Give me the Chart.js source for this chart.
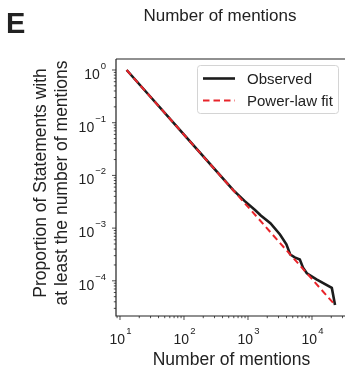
<!DOCTYPE html>
<html>
<head>
<meta charset="utf-8">
<script src="https://cdn.jsdelivr.net/npm/chart.js@4.4.1/dist/chart.umd.min.js"></script>
<style>
    html, body { margin: 0; padding: 0; background: #ffffff; }
    #wrap { width: 345px; height: 371px; position: relative; }
</style>
</head>
<body>
<div id="wrap"><canvas id="mentions-chart"></canvas></div>
<script>
// Observed complementary CDF
const obsMentions = [12.7, 31.6, 100, 316, 589, 891, 1288, 1585, 2239, 3162, 3981, 4571, 5370, 6457, 7244, 8318, 11749, 20417, 22909];
const obsProportion = [1.0, 0.288, 0.0594, 0.01227, 0.00524, 0.00325, 0.0022, 0.00174, 0.00124, 7.57e-4, 4.92e-4, 3.16e-4, 2.78e-4, 2.54e-4, 1.78e-4, 1.39e-4, 1.07e-4, 7.33e-5, 3.47e-5];

// Power-law fit (straight line in log-log)
const fitMentions = [12.7, 22909];
const fitProportion = [1.0, 3.47e-5];

// axis labels / ticks
const xTickPowers = [1, 2, 3, 4];
const yTickPowers = [0, -1, -2, -3, -4];
const seriesLabels = ['Observed', 'Power-law fit'];

const FONT = "'Liberation Sans', Arial, sans-serif";
const AXIS_COLOR = '#222222';

const toPoints = (xs, ys) => xs.map((x, i) => ({x: x, y: ys[i]}));

// Подписи, деления, рамка и легенда
const decorPlugin = {
    id: 'decorPlugin',
    afterDraw(chart) {
        const ctx = chart.ctx;
        const area = chart.chartArea;
        const xs = chart.scales.x;
        const ys = chart.scales.y;
        ctx.save();

        // spines: left, bottom, top
        ctx.strokeStyle = AXIS_COLOR;
        ctx.lineWidth = 1.2;
        ctx.beginPath();
        ctx.moveTo(area.left, area.top);
        ctx.lineTo(area.right + 2, area.top);
        ctx.moveTo(area.left, area.top);
        ctx.lineTo(area.left, area.bottom);
        ctx.lineTo(area.right + 2, area.bottom);
        ctx.stroke();

        // tick marks (major at powers of ten, minor between)
        const drawTicks = (scale, horizontal) => {
            const lo = Math.floor(Math.log10(scale.min));
            const hi = Math.ceil(Math.log10(scale.max));
            ctx.lineWidth = 0.8;
            ctx.beginPath();
            for (let e = lo; e <= hi; e++) {
                for (let k = 1; k <= 9; k++) {
                    const v = k * Math.pow(10, e);
                    if (v < scale.min || v > scale.max) continue;
                    const p = scale.getPixelForValue(v);
                    const len = k === 1 ? 4 : 2.2;
                    if (horizontal) {
                        ctx.moveTo(p, area.bottom);
                        ctx.lineTo(p, area.bottom + len);
                    } else {
                        ctx.moveTo(area.left, p);
                        ctx.lineTo(area.left - len, p);
                    }
                }
            }
            ctx.stroke();
        };
        drawTicks(xs, true);
        drawTicks(ys, false);

        const expText = (e) => (e < 0 ? '\u2212' + (-e) : String(e));
        const BASE = '14px ' + FONT;
        const SUP = '9.5px ' + FONT;

        // x tick labels 10^n
        ctx.fillStyle = AXIS_COLOR;
        ctx.textBaseline = 'alphabetic';
        xTickPowers.forEach(e => {
            const p = xs.getPixelForValue(Math.pow(10, e));
            ctx.font = BASE;
            const baseW = ctx.measureText('10').width;
            ctx.font = SUP;
            const supW = ctx.measureText(expText(e)).width;
            const start = p - (baseW + supW) / 2;
            ctx.font = BASE;
            ctx.textAlign = 'left';
            ctx.fillText('10', start, area.bottom + 28);
            ctx.font = SUP;
            ctx.fillText(expText(e), start + baseW + 1, area.bottom + 18);
        });

        // y tick labels 10^n
        const labelRight = area.left - 10;
        yTickPowers.forEach(e => {
            const p = ys.getPixelForValue(Math.pow(10, e));
            ctx.font = SUP;
            const supW = ctx.measureText(expText(e)).width;
            ctx.textAlign = 'left';
            ctx.fillText(expText(e), labelRight - supW, p - 1);
            ctx.font = BASE;
            ctx.textAlign = 'right';
            ctx.fillText('10', labelRight - supW - 1, p + 9);
        });

        // axis titles
        ctx.font = '17.5px ' + FONT;
        ctx.textAlign = 'center';
        ctx.textBaseline = 'middle';
        ctx.fillText('Number of mentions', (area.left + area.right) / 2 + 1, 360);

        ctx.save();
        ctx.translate(41, 183);
        ctx.rotate(-Math.PI / 2);
        ctx.fillText('Proportion of Statements with', 0, 0);
        ctx.fillText('at least the number of mentions', 0, 21);
        ctx.restore();

        // chart title and panel letter
        ctx.font = '17px ' + FONT;
        ctx.textBaseline = 'alphabetic';
        ctx.fillText('Number of mentions', 220, 21);
        ctx.font = 'bold 29px ' + FONT;
        ctx.textAlign = 'left';
        ctx.fillText('E', 6, 33);

        // legend
        const bx = 197.5, by = 65.5, bw = 141, bh = 48;
        ctx.beginPath();
        ctx.roundRect(bx, by, bw, bh, 3);
        ctx.fillStyle = 'rgba(255,255,255,0.85)';
        ctx.fill();
        ctx.strokeStyle = '#d4d4d4';
        ctx.lineWidth = 1;
        ctx.stroke();

        const rows = [78.5, 100.5];
        chart.data.datasets
            .slice()
            .sort((a, b) => seriesLabels.indexOf(a.label) - seriesLabels.indexOf(b.label))
            .forEach((ds, i) => {
                const y = rows[i];
                ctx.beginPath();
                ctx.setLineDash(ds.borderDash || []);
                ctx.strokeStyle = ds.borderColor;
                ctx.lineWidth = ds.borderWidth;
                ctx.moveTo(203, y);
                ctx.lineTo(235, y);
                ctx.stroke();
                ctx.setLineDash([]);
                ctx.fillStyle = AXIS_COLOR;
                ctx.font = '15px ' + FONT;
                ctx.textAlign = 'left';
                ctx.textBaseline = 'middle';
                ctx.fillText(ds.label, 247, y + 1);
            });

        ctx.restore();
    }
};

new Chart(document.getElementById('mentions-chart'), {
    type: 'line',
    data: {
        datasets: [
            {
                label: seriesLabels[0],
                data: toPoints(obsMentions, obsProportion),
                borderColor: '#1c1c1c',
                borderWidth: 2.6,
                pointRadius: 0,
                tension: 0,
                order: 2
            },
            {
                label: seriesLabels[1],
                data: toPoints(fitMentions, fitProportion),
                borderColor: '#e8242a',
                borderWidth: 2,
                borderDash: [6.5, 4],
                pointRadius: 0,
                tension: 0,
                order: 1
            }
        ]
    },
    options: {
        responsive: true,
        maintainAspectRatio: false,
        animation: false,
        layout: {
            padding: {top: 59, left: 0, right: 0, bottom: 0}
        },
        plugins: {
            legend: {display: false},
            tooltip: {enabled: false},
            title: {display: false}
        },
        scales: {
            x: {
                type: 'logarithmic',
                min: 8.66,
                max: 32800,
                grid: {display: false},
                border: {display: false},
                ticks: {display: false},
                afterFit(scale) {
                    scale.height = 55;
                }
            },
            y: {
                type: 'logarithmic',
                min: 2.15e-5,
                max: 1.617,
                grid: {display: false},
                border: {display: false},
                ticks: {display: false},
                afterFit(scale) {
                    scale.width = 116;
                }
            }
        }
    },
    plugins: [decorPlugin]
});
</script>
</body>
</html>
